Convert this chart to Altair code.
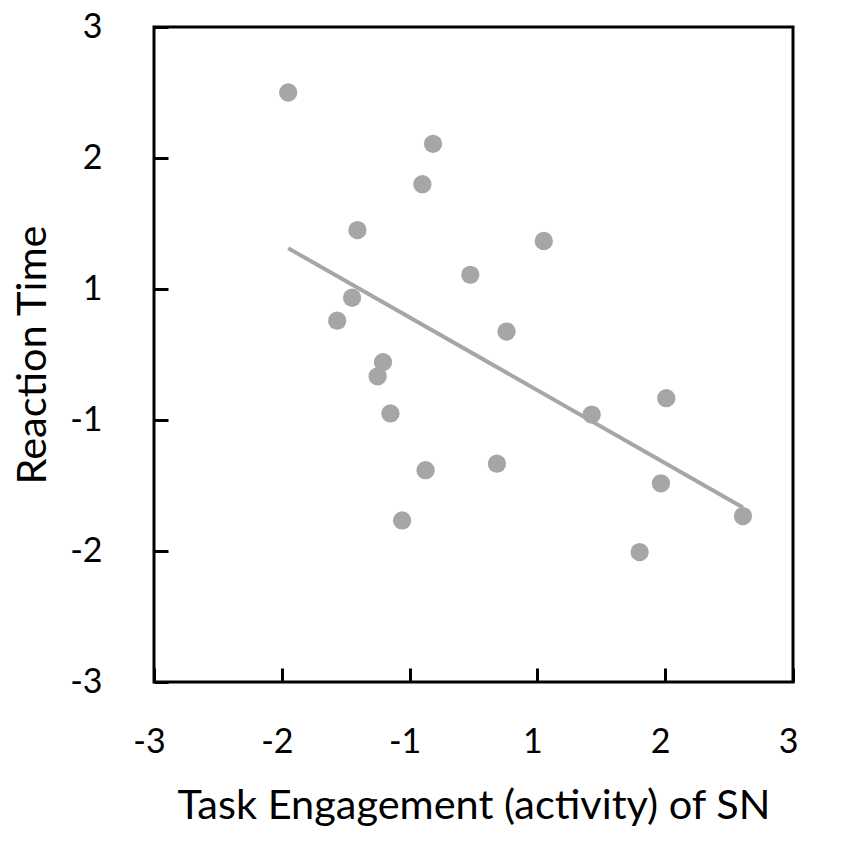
import altair as alt
import pandas as pd

# Positions are in plot units where the six labelled ticks sit evenly at
# -3, -1.8, -0.6, 0.6, 1.8, 3 (labels -3, -2, -1, 1, 2, 3)
tick_pos = [-3, -1.8, -0.6, 0.6, 1.8, 3]
tick_labels = ["-3", "-2", "-1", "1", "2", "3"]

engagement = [-1.74, -0.38, -0.48, -1.09, 0.66, -0.03, -1.14, -1.28, 0.31, -0.85,
              -0.90, -0.78, -0.45, 0.22, -0.67, 1.11, 1.81, 1.76, 1.56, 2.53]
reaction = [2.40, 1.93, 1.56, 1.14, 1.04, 0.73, 0.52, 0.31, 0.21, -0.07,
            -0.20, -0.54, -1.06, -1.00, -1.52, -0.55, -0.40, -1.18, -1.81, -1.48]

df = pd.DataFrame({"x": engagement, "y": reaction})

label_expr = "['" + "','".join(tick_labels) + "'][round((datum.value + 3) / 1.2)]"

FONT = "Lato"
GRAY = "#a6a6a6"

x_axis = alt.Axis(
    values=tick_pos, labelExpr=label_expr, grid=False, domain=False,
    offset=-14, tickSize=14, tickWidth=3, tickColor="black",
    labelFont=FONT, labelFontSize=34, labelColor="black", labelFlush=False,
    labelBaseline="alphabetic", labelPadding=70, labelOffset=-5,
    title="Task Engagement (activity) of SN", titleFont=FONT, titleFontSize=41.5,
    titleFontWeight="normal", titleColor="black", titleBaseline="alphabetic",
    titleX=319.5, titleY=150,
)
y_axis = alt.Axis(
    values=tick_pos, labelExpr=label_expr, grid=False, domain=False,
    offset=-14, tickSize=14, tickWidth=3, tickColor="black",
    labelFont=FONT, labelFontSize=34, labelColor="black", labelPadding=52,
    labelFlush=False,
    title="Reaction Time", titleFont=FONT, titleFontSize=41.5,
    titleFontWeight="normal", titleColor="black", titleBaseline="alphabetic",
    titleX=-123, titleY=327.5, titleAngle=270,
)

xs = alt.Scale(domain=[-3, 3], nice=False, zero=False)
ys = alt.Scale(domain=[-3, 3], nice=False, zero=False)

base = alt.Chart(df)

points = base.mark_circle(size=335, color=GRAY, opacity=1).encode(
    x=alt.X("x:Q", scale=xs, axis=x_axis),
    y=alt.Y("y:Q", scale=ys, axis=y_axis),
)

trend = base.transform_regression("x", "y").mark_line(
    color=GRAY, strokeWidth=4
).encode(
    x=alt.X("x:Q", scale=xs),
    y=alt.Y("y:Q", scale=ys),
)

chart = alt.layer(points, trend).properties(
    width=639, height=655,
    background="white",
    autosize=alt.AutoSizeParams(type="none"),
    padding={"left": 146, "top": 19, "right": 30, "bottom": 150},
).configure_view(
    stroke="black", strokeWidth=3
)

chart.save("out.html", embed_options={"renderer": "svg", "actions": False})
